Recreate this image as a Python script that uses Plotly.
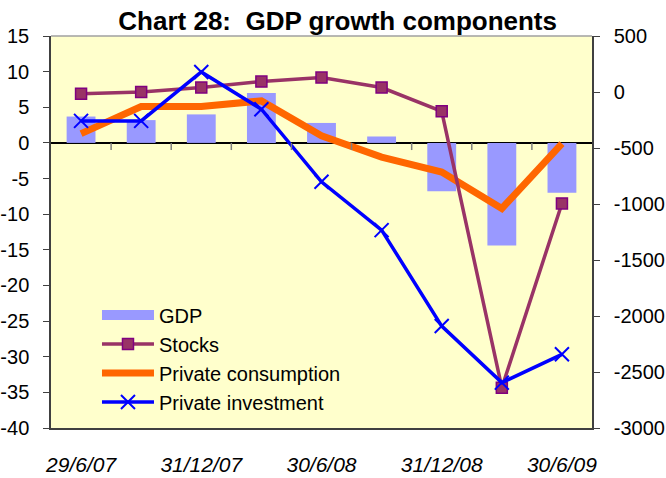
import plotly.graph_objects as go

dates = ["29/6/07", "30/9/07", "31/12/07", "31/3/08", "30/6/08",
         "30/9/08", "31/12/08", "31/3/09", "30/6/09"]
tick_labels = ["29/6/07", "31/12/07", "30/6/08", "31/12/08", "30/6/09"]

gdp = [3.7, 3.2, 4.0, 7.0, 2.8, 0.9, -6.8, -14.4, -7.0]
private_consumption = [1.3, 5.1, 5.1, 5.9, 1.0, -2.0, -4.1, -9.2, -0.1]
stocks = [-15, 0, 40, 93, 129, 40, -172, -2640, -995]
private_investment = [-258, -258, 179, -154, -802, -1233, -2090, -2595, -2342]

left_ticks = [15, 10, 5, 0, -5, -10, -15, -20, -25, -30, -35, -40]
right_ticks = [500, 0, -500, -1000, -1500, -2000, -2500, -3000]

FONT = "Arial, Liberation Sans, sans-serif"

fig = go.Figure()
fig.add_trace(go.Bar(
    x=dates, y=gdp, name="GDP", marker=dict(color="#9999FF", line=dict(width=0)),
    yaxis="y", showlegend=False, legendgroup="a"))
# legend swatch for GDP (wide box like the original)
fig.add_trace(go.Scatter(
    x=[None], y=[None], name="GDP", mode="lines", yaxis="y",
    line=dict(color="#9999FF", width=14), legendgroup="a"))
fig.add_trace(go.Scatter(
    x=dates, y=stocks, name="Stocks", mode="lines+markers", yaxis="y2",
    line=dict(color="#993366", width=3.5),
    marker=dict(symbol="square", size=11, color="#993366",
                line=dict(color="#800080", width=1.5)),
    legendgroup="b"))
fig.add_trace(go.Scatter(
    x=dates, y=private_consumption, name="Private consumption", mode="lines",
    yaxis="y", line=dict(color="#FF6600", width=7), legendgroup="c"))
fig.add_trace(go.Scatter(
    x=dates, y=private_investment, name="Private investment", mode="lines+markers",
    yaxis="y2", line=dict(color="#0000FF", width=3.5),
    marker=dict(symbol="x-thin-open", size=14, line=dict(color="#0000FF", width=2)),
    legendgroup="d"))

shapes = []
for i in range(len(dates) - 1):
    shapes.append(dict(type="line", xref="x", yref="y", x0=i + 0.5, x1=i + 0.5,
                       y0=0, y1=-1.0, line=dict(color="#808080", width=1.5)))
shapes.append(dict(type="line", xref="paper", yref="paper", x0=0, x1=1, y0=1, y1=1,
                   line=dict(color="#A0A0A0", width=1.5)))

fig.update_layout(
    width=666, height=478,
    margin=dict(l=51, r=74, t=36, b=50),
    paper_bgcolor="white", plot_bgcolor="#FFFFCC",
    font=dict(family=FONT, size=18, color="black"),
    title=dict(text="<b>Chart 28:  GDP growth components</b>", x=0.507, xanchor="center",
               y=0.956, yanchor="middle", font=dict(family=FONT, size=26, color="black")),
    bargap=0.52,
    showlegend=True,
    legend=dict(x=0.085, y=0.338, xanchor="left", yanchor="top",
                bgcolor="rgba(0,0,0,0)", font=dict(family=FONT, size=20),
                traceorder="grouped", tracegroupgap=0, itemwidth=52),
    xaxis=dict(type="category", tickvals=tick_labels, ticktext=tick_labels,
               showgrid=False, zeroline=False, showline=True, linecolor="#404040",
               linewidth=1.5, ticks="outside", ticklen=17, tickcolor="rgba(0,0,0,0)",
               tickfont=dict(family=FONT, size=21, style="italic"),
               range=[-0.5, len(dates) - 0.5], automargin=False),
    yaxis=dict(range=[-40, 15], tickvals=left_ticks,
               ticktext=[str(v) for v in left_ticks], showgrid=False, zeroline=True,
               zerolinecolor="black", zerolinewidth=1.5, showline=True,
               linecolor="#404040", linewidth=1.5, ticks="outside", ticklen=6,
               tickcolor="#404040", ticklabelstandoff=10, automargin=False,
               tickfont=dict(family=FONT, size=20)),
    yaxis2=dict(range=[-3000, 500], tickvals=right_ticks,
                ticktext=[str(v) for v in right_ticks], overlaying="y", side="right",
                showgrid=False, zeroline=False, showline=True, linecolor="#404040",
                linewidth=1.5, ticks="outside", ticklen=6, tickcolor="#404040",
                ticklabelstandoff=10, automargin=False,
                tickfont=dict(family=FONT, size=20)),
    shapes=shapes,
)

fig.write_html("out.html", config={"displayModeBar": False},
               post_script="document.body.style.margin='0';document.body.style.overflow='hidden';")
